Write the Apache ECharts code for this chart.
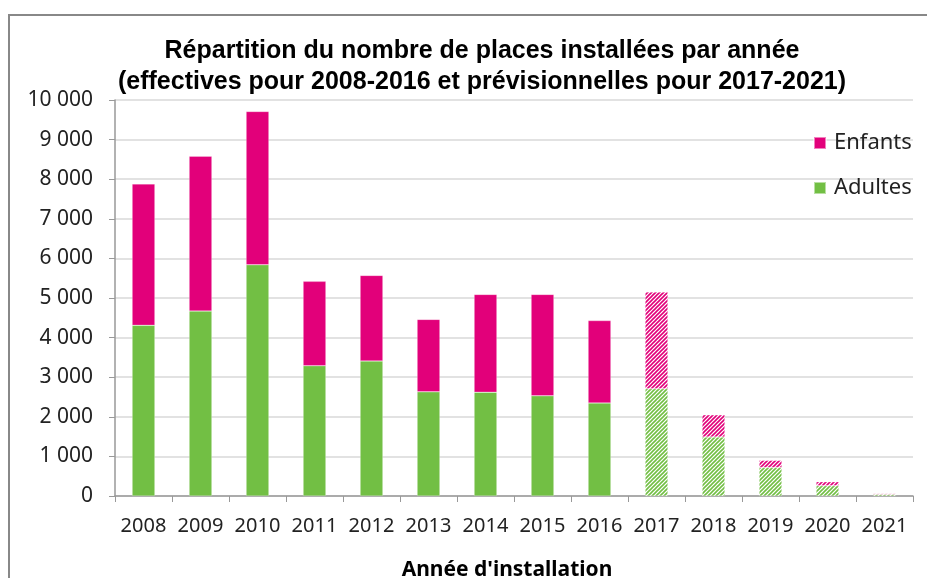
<!DOCTYPE html>
<html>
<head>
<meta charset="utf-8">
<script src="https://cdn.jsdelivr.net/npm/echarts@6/dist/echarts.min.js"></script>
<style>
  html, body { margin: 0; padding: 0; background: #fff; }
  #chart { width: 927px; height: 578px; }
</style>
</head>
<body>
<div id="chart"></div>
<script>
// données
var annees = ['2008', '2009', '2010', '2011', '2012', '2013', '2014', '2015', '2016', '2017', '2018', '2019', '2020', '2021'];
var adultes = [4310, 4670, 5840, 3290, 3410, 2630, 2620, 2530, 2350, 2710, 1490, 720, 260, 40];
var enfants = [3570, 3910, 3870, 2130, 2160, 1830, 2470, 2560, 2080, 2440, 560, 180, 100, 20];
var premiereAnneePrev = 9; // index de 2017 : années prévisionnelles (hachurées)

var ROSE = '#E2007A';
var VERT = '#72BF44';

// motif hachuré pour les années prévisionnelles
function hachures(couleur) {
  var c = document.createElement('canvas');
  c.width = 4;
  c.height = 4;
  var ctx = c.getContext('2d');
  ctx.fillStyle = '#fff';
  ctx.fillRect(0, 0, 4, 4);
  ctx.strokeStyle = couleur;
  ctx.lineWidth = 1.6;
  ctx.beginPath();
  ctx.moveTo(0, 4); ctx.lineTo(4, 0);
  ctx.moveTo(-1, 1); ctx.lineTo(1, -1);
  ctx.moveTo(3, 5); ctx.lineTo(5, 3);
  ctx.stroke();
  return { image: c, repeat: 'repeat' };
}

function serie(valeurs, couleur) {
  var motif = hachures(couleur);
  return valeurs.map(function (v, i) {
    if (i >= premiereAnneePrev) {
      return { value: v, itemStyle: { color: motif } };
    }
    return v;
  });
}

var chart = echarts.init(document.getElementById('chart'));
chart.setOption({
  animation: false,
  textStyle: { fontFamily: 'Noto Sans' },
  title: {
    text: 'Répartition du nombre de places installées par année\n(effectives pour 2008-2016 et prévisionnelles pour 2017-2021)',
    left: 477,
    top: 31,
    textAlign: 'center',
    textStyle: {
      fontFamily: 'Liberation Sans',
      fontWeight: 'bold',
      fontSize: 25,
      lineHeight: 31,
      color: '#000'
    }
  },
  legend: {
    data: ['Enfants', 'Adultes'],
    orient: 'vertical',
    left: 808,
    top: 127,
    itemWidth: 12,
    itemHeight: 12,
    itemGap: 23,
    icon: 'rect',
    textStyle: { fontSize: 22, color: '#222', fontFamily: 'Noto Sans', padding: [0, 0, 0, 3] }
  },
  graphic: [{
    type: 'rect',
    shape: { x: 9, y: 15, width: 1000, height: 700 },
    style: { fill: 'none', stroke: '#888', lineWidth: 2 },
    silent: true
  }],
  grid: { left: 115, right: 14, top: 100, bottom: 82, outerBoundsMode: 'none', containLabel: false },
  xAxis: {
    type: 'category',
    data: annees,
    name: "Année d'installation",
    nameLocation: 'middle',
    nameGap: 64,
    nameTextStyle: { fontSize: 21, fontWeight: 'bold', color: '#000', padding: [0, 14, 0, 0] },
    axisLine: { lineStyle: { color: '#999', width: 1.5 } },
    axisTick: { show: true, length: 6, alignWithLabel: false, lineStyle: { color: '#999' } },
    axisLabel: { fontSize: 20, color: '#222', margin: 20, interval: 0, hideOverlap: false }
  },
  yAxis: {
    type: 'value',
    min: 0,
    max: 10000,
    interval: 1000,
    axisLine: { show: true, lineStyle: { color: '#999', width: 1.5 } },
    axisTick: { show: true, length: 6, inside: false, lineStyle: { color: '#999' } },
    splitLine: { lineStyle: { color: '#d9d9d9', width: 1.5 } },
    axisLabel: {
      fontSize: 21,
      color: '#222',
      margin: 22,
      formatter: function (v) {
        return v >= 1000 ? Math.floor(v / 1000) + ' ' + String(v % 1000).padStart(3, '0') : String(v);
      }
    }
  },
  series: [
    {
      name: 'Adultes',
      type: 'bar',
      stack: 'total',
      barWidth: '40%',
      itemStyle: { color: VERT, borderColor: 'rgba(255,255,255,0.5)', borderWidth: 0.5 },
      data: serie(adultes, VERT)
    },
    {
      name: 'Enfants',
      type: 'bar',
      stack: 'total',
      barWidth: '40%',
      itemStyle: { color: ROSE, borderColor: 'rgba(255,255,255,0.5)', borderWidth: 0.5 },
      data: serie(enfants, ROSE)
    }
  ]
});
</script>
</body>
</html>
